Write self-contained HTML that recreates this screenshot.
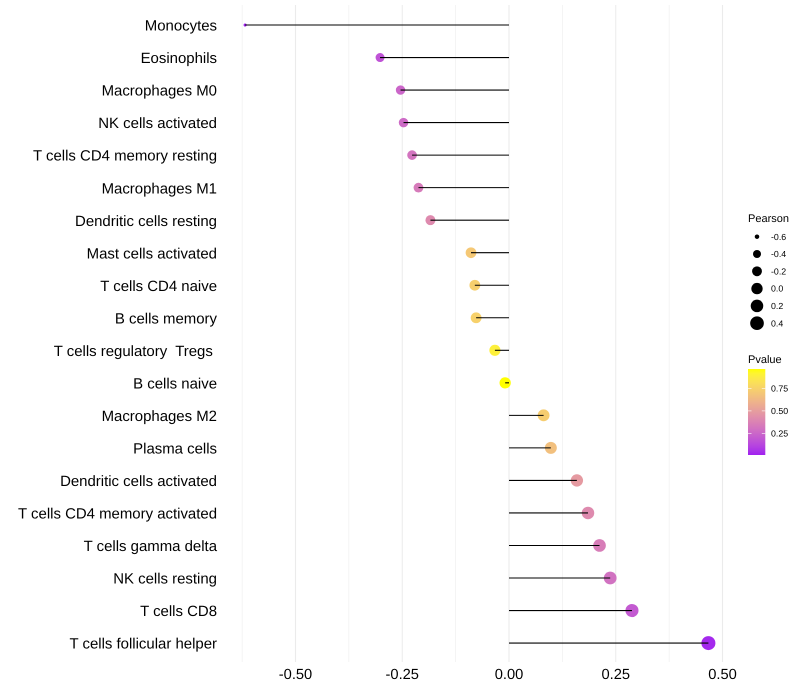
<!DOCTYPE html>
<html>
<head>
<meta charset="utf-8">
<title>Lollipop chart of immune cell correlation</title>
<style>
  html, body { margin: 0; padding: 0; background: #fff; }
  svg { display: block; font-family: "Liberation Sans", sans-serif; text-rendering: geometricPrecision; }
  text { white-space: pre; }
</style>
</head>
<body>
<svg id="chart" width="800" height="700" viewBox="0 0 800 700" xmlns="http://www.w3.org/2000/svg"></svg>
<script>
const categories = ["Monocytes", "Eosinophils", "Macrophages M0", "NK cells activated", "T cells CD4 memory resting", "Macrophages M1", "Dendritic cells resting", "Mast cells activated", "T cells CD4 naive", "B cells memory", "T cells regulatory  Tregs ", "B cells naive", "Macrophages M2", "Plasma cells", "Dendritic cells activated", "T cells CD4 memory activated", "T cells gamma delta", "NK cells resting", "T cells CD8", "T cells follicular helper"];
const pearson = [-0.618, -0.302, -0.254, -0.247, -0.227, -0.212, -0.184, -0.089, -0.080, -0.077, -0.033, -0.009, 0.081, 0.098, 0.159, 0.185, 0.212, 0.237, 0.288, 0.467];
const pvalue = [0.01, 0.17, 0.25, 0.27, 0.31, 0.34, 0.41, 0.70, 0.73, 0.74, 0.89, 0.96, 0.72, 0.66, 0.48, 0.41, 0.35, 0.30, 0.20, 0.03];
const xMajorTicks = [-0.5, -0.25, 0, 0.25, 0.5];
const xMinorTicks = [-0.625, -0.375, -0.125, 0.125, 0.375];
const xTickLabels = ["-0.50", "-0.25", "0.00", "0.25", "0.50"];
const sizeLegendValues = [-0.6, -0.4, -0.2, 0, 0.2, 0.4];
const sizeLegendLabels = ["-0.6", "-0.4", "-0.2", "0.0", "0.2", "0.4"];
const colorLegendValues = [0.75, 0.5, 0.25];
const colorLegendLabels = ["0.75", "0.50", "0.25"];

const NS = "http://www.w3.org/2000/svg";
const svg = document.getElementById("chart");

function make(tag, attrs, parent) {
  const el = document.createElementNS(NS, tag);
  for (const k in attrs) el.setAttribute(k, attrs[k]);
  (parent || svg).appendChild(el);
  return el;
}

/* axis functions */
function xScale(v) { return 509 + v * 427; }
function yScale(i) { return 25 + i * 32.53; }

const minPearson = Math.min(...pearson);
const maxPearson = Math.max(...pearson);
function radius(v) {
  const t = Math.max(0, (v - minPearson) / (maxPearson - minPearson));
  return (3.1 + 10.9 * Math.sqrt(t)) / 2;
}

/* colour scale: Lab interpolation from purple to yellow */
function toLinear(c) { c /= 255; return c <= 0.04045 ? c / 12.92 : Math.pow((c + 0.055) / 1.055, 2.4); }
function toSrgb(c) {
  const v = c <= 0.0031308 ? 12.92 * c : 1.055 * Math.pow(c, 1 / 2.4) - 0.055;
  return Math.round(Math.min(1, Math.max(0, v)) * 255);
}
function rgbToLab(rgb) {
  const r = toLinear(rgb[0]), g = toLinear(rgb[1]), b = toLinear(rgb[2]);
  const X = (0.4124 * r + 0.3576 * g + 0.1805 * b) / 0.95047;
  const Y = 0.2126 * r + 0.7152 * g + 0.0722 * b;
  const Z = (0.0193 * r + 0.1192 * g + 0.9505 * b) / 1.08883;
  const f = t => t > 0.008856 ? Math.cbrt(t) : 7.787 * t + 16 / 116;
  return [116 * f(Y) - 16, 500 * (f(X) - f(Y)), 200 * (f(Y) - f(Z))];
}
function labToCss(lab) {
  const fy = (lab[0] + 16) / 116, fx = fy + lab[1] / 500, fz = fy - lab[2] / 200;
  const g = t => t * t * t > 0.008856 ? t * t * t : (t - 16 / 116) / 7.787;
  const X = g(fx) * 0.95047, Y = g(fy), Z = g(fz) * 1.08883;
  const r = 3.2406 * X - 1.5372 * Y - 0.4986 * Z;
  const gr = -0.9689 * X + 1.8758 * Y + 0.0415 * Z;
  const b = 0.0557 * X - 0.204 * Y + 1.057 * Z;
  return "rgb(" + toSrgb(r) + "," + toSrgb(gr) + "," + toSrgb(b) + ")";
}
const labLow = rgbToLab([160, 32, 240]);
const labHigh = rgbToLab([255, 255, 0]);
const minP = Math.min(...pvalue);
const maxP = Math.max(...pvalue);
function colorAtT(t) {
  return labToCss(labLow.map((l, i) => l + (labHigh[i] - l) * t));
}
function color(p) { return colorAtT((p - minP) / (maxP - minP)); }

/* gridlines */
const panelTop = 5, panelBottom = 662;
const gridGroup = make("g", {});


xMinorTicks.forEach(function (v) {
  const line = make("line", { x1: xScale(v), x2: xScale(v), y1: panelTop, y2: panelBottom, stroke: "#ebebeb", "stroke-width": 0.55 }, gridGroup);
  
  
});
xMajorTicks.forEach(function (v) {
  const line = make("line", { x1: xScale(v), x2: xScale(v), y1: panelTop, y2: panelBottom, stroke: "#ebebeb", "stroke-width": 1.05 }, gridGroup);
  
  
});

/* y axis labels */
categories.forEach(function (name, i) {
  const label = make("text", { x: 217, y: yScale(i) + 5.6, "text-anchor": "end", "font-size": 14.95, fill: "#000" });
  label.textContent = name;
  
  
});

/* x axis labels */
xTickLabels.forEach(function (text, i) {
  const label = make("text", { x: xScale(xMajorTicks[i]), y: 679, "text-anchor": "middle", "font-size": 14.67, fill: "#000" });
  label.textContent = text;
  
  
});

/* points, then stems on top */
pearson.forEach(function (v, i) {
  const dot = make("circle", { cx: xScale(v), cy: yScale(i), r: radius(v), fill: color(pvalue[i]) });
  
  
});
pearson.forEach(function (v, i) {
  const stem = make("line", { x1: xScale(0), x2: xScale(v), y1: yScale(i), y2: yScale(i), stroke: "#000", "stroke-width": 1.07 });
  
  
});

/* Pearson size legend */
const sizeTitle = make("text", { x: 748, y: 222, "font-size": 11, fill: "#000" });
sizeTitle.textContent = "Pearson";


function sizeLegendY(i) { return 236.7 + i * 17.3; }
sizeLegendValues.forEach(function (v, i) {
  const key = make("circle", { cx: 757, cy: sizeLegendY(i), r: radius(v), fill: "#000" });
  
  
  const label = make("text", { x: 771, y: sizeLegendY(i) + 3.1, "font-size": 8.8, fill: "#000" });
  label.textContent = sizeLegendLabels[i];
  
  
});

/* Pvalue colour legend */
const colorTitle = make("text", { x: 748, y: 363, "font-size": 11, fill: "#000" });
colorTitle.textContent = "Pvalue";


const defs = make("defs", {});
const grad = make("linearGradient", { id: "pvalue-gradient", x1: 0, y1: 1, x2: 0, y2: 0 }, defs);
for (let s = 0; s <= 20; s++) {
  make("stop", { offset: s / 20, "stop-color": colorAtT(s / 20) }, grad);
}
const legendBar = make("rect", { x: 748, y: 369, width: 17.3, height: 86, fill: "url(#pvalue-gradient)" });


function colorLegendY(v) { return 433.4 - (v - 0.25) * 90; }
colorLegendValues.forEach(function (v, i) {
  const y = colorLegendY(v);
  const tickL = make("line", { x1: 748, x2: 751.5, y1: y, y2: y, stroke: "#fff", "stroke-width": 0.6 });
  
  
  const tickR = make("line", { x1: 761.8, x2: 765.3, y1: y, y2: y, stroke: "#fff", "stroke-width": 0.6 });
  
  
  const label = make("text", { x: 771, y: y + 3.1, "font-size": 8.8, fill: "#000" });
  label.textContent = colorLegendLabels[i];
  
  
});
</script>
</body>
</html>
